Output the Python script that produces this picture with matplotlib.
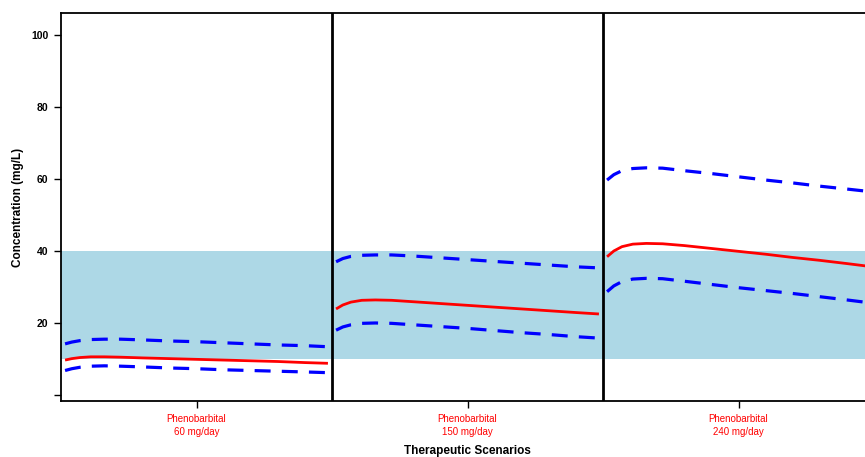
import numpy as np
import matplotlib.pyplot as plt

plt.rcParams['font.family'] = ['Liberation Sans', 'DejaVu Sans']

# relative time within each scenario panel (0..1)
t_frac = [0.015, 0.04, 0.07, 0.11, 0.16, 0.22, 0.3, 0.4, 0.5, 0.6, 0.7, 0.8, 0.9, 0.985]

scenarios = ["Phenobarbital\n60 mg/day", "Phenobarbital\n150 mg/day", "Phenobarbital\n240 mg/day"]

median_60 = [9.7, 10.1, 10.4, 10.6, 10.6, 10.5, 10.3, 10.1, 9.9, 9.7, 9.5, 9.3, 9.0, 8.8]
upper_60 = [14.2, 14.7, 15.1, 15.4, 15.5, 15.5, 15.3, 15.0, 14.8, 14.5, 14.2, 13.9, 13.7, 13.4]
lower_60 = [6.8, 7.3, 7.7, 8.0, 8.1, 8.0, 7.8, 7.5, 7.3, 7.0, 6.8, 6.6, 6.4, 6.2]

median_150 = [23.9, 25.0, 25.8, 26.3, 26.4, 26.3, 25.9, 25.4, 24.9, 24.4, 23.9, 23.4, 22.9, 22.5]
upper_150 = [37.0, 37.9, 38.5, 38.8, 38.9, 38.9, 38.6, 38.1, 37.6, 37.1, 36.6, 36.1, 35.6, 35.3]
lower_150 = [18.0, 18.9, 19.5, 19.9, 20.0, 19.9, 19.5, 19.0, 18.5, 17.9, 17.3, 16.8, 16.2, 15.8]

median_240 = [38.4, 40.0, 41.2, 41.9, 42.1, 42.0, 41.5, 40.7, 39.9, 39.1, 38.2, 37.4, 36.5, 35.7]
upper_240 = [59.7, 61.2, 62.3, 62.9, 63.1, 63.0, 62.3, 61.5, 60.6, 59.7, 58.9, 58.0, 57.2, 56.5]
lower_240 = [28.7, 30.3, 31.5, 32.2, 32.4, 32.3, 31.6, 30.7, 29.8, 29.0, 28.2, 27.3, 26.4, 25.6]

therapeutic_range = (10, 40)
y_ticks = [0, 20, 40, 60, 80, 100]
y_ticklabels = ["", "20", "40", "60", "80", "100"]

fig = plt.figure(figsize=(8.65, 4.57), dpi=100)
ax = fig.add_axes([61 / 865, 56 / 457, 813 / 865, 388 / 457])

ax.axhspan(therapeutic_range[0], therapeutic_range[1], color='#ADD8E6', lw=0, zorder=0)

panels = [(median_60, upper_60, lower_60),
          (median_150, upper_150, lower_150),
          (median_240, upper_240, lower_240)]
t = np.array(t_frac)
for i, (med, up, lo) in enumerate(panels):
    x = i + t
    ax.plot(x, med, color='red', lw=2, solid_capstyle='butt')
    ax.plot(x, up, color='blue', lw=2.3, ls=(0, (5, 3.5)))
    ax.plot(x, lo, color='blue', lw=2.3, ls=(0, (5, 3.5)))

for xb in [1, 2]:
    ax.axvline(xb, color='black', lw=2)

ax.set_xlim(0, 3)
ax.set_ylim(-1.67, 106.1)
ax.set_yticks(y_ticks)
ax.set_yticklabels(y_ticklabels, fontsize=7.5, fontweight='bold')
ax.set_xticks([0.5, 1.5, 2.5])
ax.set_xticklabels(scenarios, fontsize=7, color='red', linespacing=1.3)
ax.tick_params(axis='both', length=5, width=1, direction='out')
ax.tick_params(axis='y', pad=4)
ax.tick_params(axis='x', pad=4.5)

for s in ax.spines.values():
    s.set_linewidth(1.3)

ax.set_ylabel("Concentration (mg/L)", fontsize=8.5, fontweight='bold', labelpad=5)
ax.set_xlabel("Therapeutic Scenarios", fontsize=8.5, fontweight='bold', labelpad=6)

fig.savefig("out.png", dpi=100)
